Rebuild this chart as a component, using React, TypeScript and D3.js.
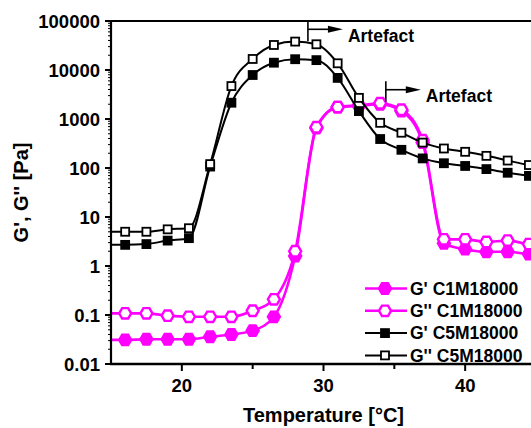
import React from "react";
import * as d3 from "d3";

// ---- data ----
const temperatures = [14.5, 16, 17.5, 19, 20.5, 22, 23.5, 25, 26.5, 28, 29.5, 31, 32.5, 34, 35.5, 37, 38.5, 40, 41.5, 43, 44.5, 46];
const gPrimeC1 = [0.031, 0.031, 0.032, 0.032, 0.032, 0.036, 0.040, 0.048, 0.092, 1.6, 650, 1750, 1850, 2000, 1450, 330, 2.9, 2.2, 1.95, 1.95, 1.75, 1.7];
const gDoubleC1 = [0.108, 0.108, 0.108, 0.097, 0.092, 0.092, 0.092, 0.122, 0.209, 2.0, 680, 1750, 1900, 2100, 1550, 370, 3.5, 3.5, 3.1, 3.3, 2.8, 2.7];
const gPrimeC5 = [2.7, 2.7, 2.8, 3.3, 3.7, 107, 2150, 7900, 14100, 16600, 15900, 6900, 1450, 390, 235, 157, 125, 110, 95, 80, 69, 62];
const gDoubleC5 = [5.0, 5.0, 5.0, 5.6, 5.9, 120, 4700, 16800, 32400, 38000, 33500, 13700, 2700, 835, 525, 330, 250, 214, 177, 142, 115, 100];

const seriesNames = ["G' C1M18000", "G'' C1M18000", "G' C5M18000", "G'' C5M18000"];
const xTicksMajor = [20, 30, 40];
const xTicksMinor = [25, 35];
const yTickLabels = ["0.01", "0.1", "1", "10", "100", "1000", "10000", "100000"];
const yTickValues = [0.01, 0.1, 1, 10, 100, 1000, 10000, 100000];
const artefactT = [28.9, 34.4];
const artefactV = [67700, 3960];
const artefactLabel = "Artefact";

const MAGENTA = "#ff00ff";
const FONT = "Arial, 'Liberation Sans', Helvetica, sans-serif";

function hexPath(r: number) {
  const pts: [number, number][] = d3.range(6).map((k) => {
    const a = (Math.PI / 3) * k;
    return [r * Math.cos(a), r * Math.sin(a)];
  });
  return (d3.line()(pts) || "") + "Z";
}

function Marker({ shape, filled, color, cx, cy }: any) {
  if (shape === "hex") {
    return (
      <path
        d={hexPath(6)}
        transform={`translate(${cx},${cy})`}
        fill={filled ? color : "#fff"}
        stroke={color}
        strokeWidth={2.4}
      />
    );
  }
  const s = 8;
  return (
    <rect
      x={cx - s / 2}
      y={cy - s / 2}
      width={s}
      height={s}
      fill={filled ? color : "#fff"}
      stroke={color}
      strokeWidth={1.8}
    />
  );
}

export default function App() {
  const left = 111, right = 536, top = 21, bottom = 364;
  const x = d3.scaleLinear().domain([15, 45]).range([left, right]);
  const y = d3.scaleLog().domain([0.01, 100000]).range([bottom, top]);

  const series = [
    { name: seriesNames[0], values: gPrimeC1, color: MAGENTA, shape: "hex", filled: true, lw: 2.6 },
    { name: seriesNames[1], values: gDoubleC1, color: MAGENTA, shape: "hex", filled: false, lw: 2.6 },
    { name: seriesNames[2], values: gPrimeC5, color: "#000", shape: "sq", filled: true, lw: 2 },
    { name: seriesNames[3], values: gDoubleC5, color: "#000", shape: "sq", filled: false, lw: 2 },
  ];

  const lineFor = (vals: number[]) =>
    d3
      .line<number>()
      .x((_, i) => x(temperatures[i]))
      .y((d) => y(d))
      .curve(d3.curveMonotoneX)(vals) || "";

  // minor log ticks
  const minorY: number[] = [];
  for (let e = -2; e < 5; e++) {
    for (let m = 2; m <= 9; m++) minorY.push(m * Math.pow(10, e));
  }

  const legendX = 365;
  const legendY0 = 288.5;
  const legendDy = 22.3;

  return (
    <svg
      width={531}
      height={428}
      style={{ position: "absolute", left: 0, top: 0, background: "#fff" }}
      fontFamily={FONT}
    >
      <defs>
        <clipPath id="plotclip">
          <rect x={left} y={top} width={right - left} height={bottom - top} />
        </clipPath>
      </defs>
      <rect x={0} y={0} width={531} height={428} fill="#fff" />

      {/* series */}
      {series.map((s, si) => (
        <g key={si}>
          <path d={lineFor(s.values)} fill="none" stroke={s.color} strokeWidth={s.lw} clipPath="url(#plotclip)" />
          {s.values.map((v, i) =>
            temperatures[i] >= 15 && temperatures[i] <= 45 ? (
              <Marker key={i} shape={s.shape} filled={s.filled} color={s.color} cx={x(temperatures[i])} cy={y(v)} />
            ) : null
          )}
        </g>
      ))}

      {/* axes frame */}
      <line x1={left} x2={right} y1={top} y2={top} stroke="#000" strokeWidth={2} />
      <line x1={left} x2={left} y1={top - 1} y2={bottom + 1} stroke="#000" strokeWidth={2.2} />
      <line x1={left - 1} x2={right} y1={bottom} y2={bottom} stroke="#000" strokeWidth={2.6} />

      {/* y ticks */}
      {minorY.map((v, i) => (
        <line key={"ym" + i} x1={left - 3} x2={left} y1={y(v)} y2={y(v)} stroke="#000" strokeWidth={1} />
      ))}
      {yTickValues.map((v, i) => (
        <g key={"yt" + i}>
          <line x1={left - 6} x2={left} y1={y(v)} y2={y(v)} stroke="#000" strokeWidth={2} />
          <text x={left - 11} y={y(v)} dy="0.36em" textAnchor="end" fontSize={18.5} fontWeight="bold">
            {yTickLabels[i]}
          </text>
        </g>
      ))}

      {/* x ticks */}
      {xTicksMinor.map((t, i) => (
        <line key={"xm" + i} x1={x(t)} x2={x(t)} y1={bottom} y2={bottom + 5} stroke="#000" strokeWidth={2} />
      ))}
      {xTicksMajor.map((t, i) => (
        <g key={"xt" + i}>
          <line x1={x(t)} x2={x(t)} y1={bottom} y2={bottom + 7} stroke="#000" strokeWidth={2} />
          <text x={x(t)} y={bottom + 27.5} textAnchor="middle" fontSize={18.5} fontWeight="bold">
            {t}
          </text>
        </g>
      ))}

      {/* axis titles */}
      <text x={323.5} y={422} textAnchor="middle" fontSize={20} fontWeight="bold">
        Temperature [°C]
      </text>
      <text
        transform={`translate(28,${(top + bottom) / 2}) rotate(-90)`}
        textAnchor="middle"
        fontSize={20}
        fontWeight="bold"
      >
        G', G'' [Pa]
      </text>

      {/* artefact annotations */}
      {artefactT.map((t, i) => {
        const ax = x(t);
        const ay = y(artefactV[i]);
        const len = 35;
        return (
          <g key={"art" + i}>
            <line x1={ax} x2={ax} y1={Math.max(top, ay - 8.5)} y2={ay + 12} stroke="#000" strokeWidth={1.6} />
            <line x1={ax} x2={ax + len - 14} y1={ay} y2={ay} stroke="#000" strokeWidth={1.6} />
            <path d={`M${ax + len - 15},${ay - 3.5}L${ax + len},${ay}L${ax + len - 15},${ay + 3.5}Z`} fill="#000" />
            <text x={ax + len + 5} y={ay + 12.5} fontSize={17.5} fontWeight="bold">
              {artefactLabel}
            </text>
          </g>
        );
      })}

      {/* legend */}
      {series.map((s, i) => {
        const ly = legendY0 + i * legendDy;
        return (
          <g key={"lg" + i}>
            <line x1={legendX} x2={legendX + 42} y1={ly} y2={ly} stroke={s.color} strokeWidth={s.lw} />
            <Marker shape={s.shape} filled={s.filled} color={s.color} cx={legendX + 20} cy={ly} />
            <text x={legendX + 45} y={ly} dy="0.36em" fontSize={17.5} fontWeight="bold">
              {s.name}
            </text>
          </g>
        );
      })}
    </svg>
  );
}
